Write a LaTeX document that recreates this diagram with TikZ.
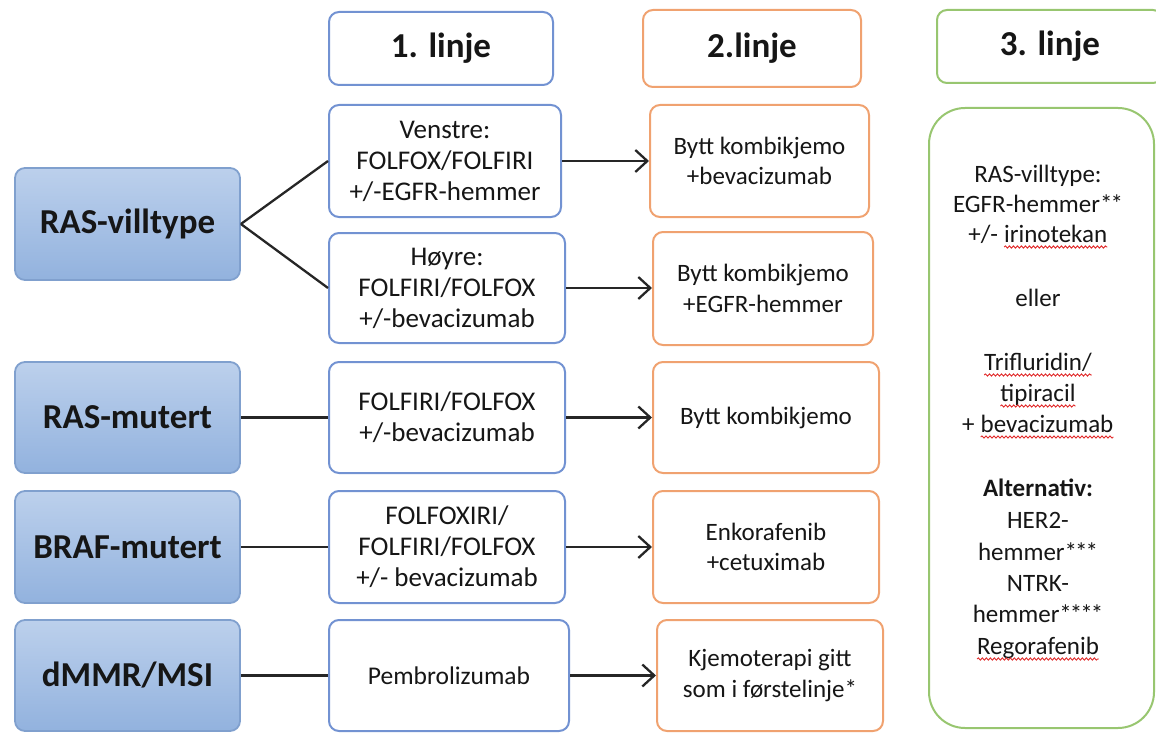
\documentclass[tikz,border=0pt]{standalone}
\usepackage{fontspec}
\setmainfont{Carlito}
\usetikzlibrary{arrows.meta,decorations.pathmorphing}
\definecolor{blueb}{RGB}{114,146,210}
\definecolor{orab}{RGB}{240,162,112}
\definecolor{greb}{RGB}{152,198,112}
\definecolor{lbtop}{RGB}{188,208,236}
\definecolor{lbbot}{RGB}{146,178,222}
\definecolor{lbb}{RGB}{128,160,206}
\definecolor{txt}{RGB}{22,22,22}
\definecolor{squigred}{RGB}{225,40,40}
\newcommand{\squig}[1]{\tikz[baseline=(sq.base)]{\node[inner sep=0pt,outer sep=0pt,draw=none,fill=none,minimum size=0pt,rounded corners=0pt,anchor=base](sq){#1};\draw[squigred,line width=0.9pt,rounded corners=0pt,decorate,decoration={snake,amplitude=1.1pt,segment length=4pt}]([yshift=-5pt]sq.base west)--([yshift=-5pt]sq.base east);}}
\newcommand{\ak}{\kern-2pt}
% \bx{name}{style}{x1}{y1}{x2}{y2}{text}
\newcommand{\bx}[7]{\node[#2, minimum width={(#5-#3)*1pt}, minimum height={(#6-#4)*1pt}] (#1) at ({(#3+#5)/2},{(#4+#6)/2}) {#7};}
\begin{document}
\begin{tikzpicture}[x=1pt,y=-1pt,
  lab/.style={rounded corners=10pt, draw=lbb, line width=1.8pt, top color=lbtop, bottom color=lbbot, inner sep=0pt, font=\bfseries\fontsize{35}{40}\selectfont, text=txt},
  first/.style={rounded corners=10pt, draw=blueb, line width=2pt, fill=white, inner sep=0pt, align=center, font=\fontsize{27}{31}\selectfont, text=txt},
  second/.style={rounded corners=10pt, draw=orab, line width=2pt, fill=white, inner sep=0pt, align=center, font=\fontsize{25}{30.5}\selectfont, text=txt},
  head/.style={rounded corners=10pt, fill=white, line width=2pt, inner sep=0pt, font=\bfseries\fontsize{35}{40}\selectfont, text=txt},
  conn/.style={line width=2.3pt, draw=black!85},
  arr/.style={conn, -{Straight Barb[length=12pt,width=22pt]}},
  third/.style={font=\fontsize{25}{30}\selectfont, text=txt, inner sep=0pt, anchor=base}]
\useasboundingbox (0,0) rectangle (1156,733);
% headers
\bx{h1}{head, draw=blueb}{329}{12}{553}{85}{1. linje}
\bx{h2}{head, draw=orab}{643}{10}{861}{87}{2.linje}
\bx{h3}{head, draw=greb}{937}{10}{1163}{83}{3. linje}
% left labels
\bx{l1}{lab}{15}{168}{240}{280}{RAS-villtype}
\bx{l2}{lab}{15}{362}{240}{473}{RAS-mutert}
\bx{l3}{lab}{15}{491}{240}{603}{BRAF-mutert}
\bx{l4}{lab}{15}{620}{240}{731}{dMMR/MSI}
% first line
\bx{f1a}{first}{329}{105}{561}{217}{Venstre:\\FOLFOX/FOLFIRI\\+/-EGFR-hemmer}
\bx{f1b}{first}{329}{233}{565}{343}{Høyre:\\FOLFIRI/FOLFOX\\+/-bevacizumab}
\bx{f2}{first}{329}{362}{565}{473}{FOLFIRI/FOLFOX\\+/-bevacizumab}
\bx{f3}{first}{329}{491}{565}{603}{FOLFOXIRI/\\FOLFIRI/FOLFOX\\+/- bevacizumab}
\bx{f4}{first, font=\fontsize{25.5}{30}\selectfont}{329}{620}{569}{731}{Pembrolizumab}
% second line
\bx{s1a}{second}{650}{105}{869}{217}{Bytt kombikjemo\\+bevacizumab}
\bx{s1b}{second}{653}{232}{873}{345}{Bytt kombikjemo\\+EGFR-hemmer}
\bx{s2}{second}{653}{362}{879}{473}{Bytt kombikjemo}
\bx{s3}{second}{653}{491}{879}{603}{Enkorafenib\\+cetuximab}
\bx{s4}{second}{657}{620}{883}{731}{Kjemoterapi gitt\\som i førstelinje*}
% third line
\bx{g}{draw=greb, line width=2pt, rounded corners=36pt, fill=white, inner sep=0pt}{929}{108}{1154}{728}{}
\node[third] (t1) at (1038,182) {RAS-villtype:};
\node[third] (t2) at (1038,212) {EGFR-hemmer*\ak*};
\node[third] (t3) at (1038,242) {+/- \squig{irinotekan}};
\node[third] (t4) at (1038,306) {eller};
\node[third] (t5) at (1038,370) {\squig{Trifluridin/}};
\node[third] (t6) at (1038,401) {\squig{tipiracil}};
\node[third] (t7) at (1038,432) {+ \squig{bevacizumab}};
\node[third] (t8) at (1038,496) {\textbf{Alternativ:}};
\node[third] (t9) at (1038,528) {HER2-};
\node[third] (t10) at (1038,560) {hemmer*\ak*\ak*};
\node[third] (t11) at (1038,591) {NTRK-};
\node[third] (t12) at (1038,622) {hemmer*\ak*\ak*\ak*};
\node[third] (t13) at (1038,654) {\squig{Regorafenib}};
% connectors
\draw[conn] (l1.east) -- (f1a.west);
\draw[conn] (l1.east) -- (f1b.west);
\draw[conn] (l2.east) -- (f2.west);
\draw[conn] (l3.east) -- (f3.west);
\draw[conn] (l4.east) -- (f4.west);
\draw[arr] (f1a.east) -- (f1a.east -| s1a.west);
\draw[arr] (f1b.east) -- (f1b.east -| s1b.west);
\draw[arr] (f2.east) -- (f2.east -| s2.west);
\draw[arr] (f3.east) -- (f3.east -| s3.west);
\draw[arr] (f4.east) -- (f4.east -| s4.west);
\end{tikzpicture}
\end{document}
